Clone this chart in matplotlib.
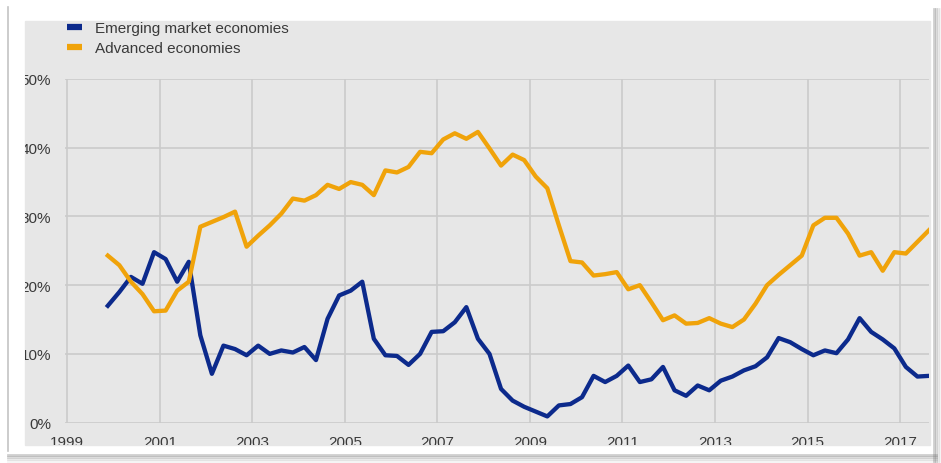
import matplotlib
matplotlib.use("Agg")
import matplotlib.pyplot as plt
from matplotlib.patches import Rectangle
from matplotlib.transforms import Bbox, TransformedBbox
from matplotlib.lines import Line2D

plt.rcParams["font.family"] = ["Liberation Sans", "DejaVu Sans"]

# quarterly data, 2000Q1 - 2017Q4 (% share)
start_year = 2000
emerging = [17.0, 19.0, 21.2, 20.2, 24.8, 23.8, 20.5, 23.4, 12.7, 7.1,
            11.2, 10.7, 9.8, 11.2, 10.0, 10.5, 10.2, 11.0, 9.1, 15.1,
            18.5, 19.2, 20.5, 12.2, 9.8, 9.7, 8.4, 10.0, 13.2, 13.3,
            14.6, 16.8, 12.2, 10.0, 4.9, 3.2, 2.3, 1.6, 0.9, 2.5,
            2.7, 3.7, 6.8, 5.9, 6.8, 8.3, 5.9, 6.3, 8.1, 4.7,
            3.9, 5.4, 4.7, 6.1, 6.7, 7.6, 8.2, 9.5, 12.3, 11.7,
            10.7, 9.8, 10.5, 10.1, 12.1, 15.2, 13.2, 12.1, 10.8, 8.1,
            6.7, 6.8]
advanced = [24.3, 22.9, 20.5, 18.7, 16.2, 16.3, 19.2, 20.5, 28.5, 29.2,
            29.9, 30.7, 25.6, 27.2, 28.7, 30.4, 32.6, 32.3, 33.1, 34.6,
            34.0, 35.0, 34.6, 33.1, 36.7, 36.4, 37.2, 39.4, 39.2, 41.2,
            42.1, 41.3, 42.3, 39.9, 37.4, 39.0, 38.2, 35.8, 34.1, 28.7,
            23.5, 23.3, 21.4, 21.6, 21.9, 19.4, 20.0, 17.5, 14.9, 15.6,
            14.4, 14.5, 15.2, 14.4, 13.9, 15.0, 17.3, 20.0, 21.5, 22.9,
            24.3, 28.7, 29.8, 29.8, 27.5, 24.3, 24.8, 22.1, 24.8, 24.6,
            26.3, 28.0]
labels = ["Emerging market economies", "Advanced economies"]
year_ticks = list(range(1999, 2018, 2))
pct_ticks = [0, 10, 20, 30, 40, 50]

blue = "#0c2a8c"
gold = "#f0a30a"
panel = "#e7e7e7"

dates = [start_year - 0.125 + i / 4 for i in range(len(emerging))]

W, H = 941, 464
fig = plt.figure(figsize=(W / 100, H / 100), dpi=100)
fig.patch.set_facecolor("white")

def fx(px):
    return px / W

def fy(py):
    return 1 - py / H

# screenshot frame: grey panel, thin left edge, shadow at bottom/right
fig.patches.append(Rectangle((fx(25), fy(446)), fx(905), (446 - 22) / H,
                             transform=fig.transFigure, color=panel, zorder=-10))
fig.lines.append(Line2D([fx(8), fx(8)], [fy(452), fy(8)], transform=fig.transFigure,
                        color="#c4c4c4", lw=1.2, zorder=-10))
for i, a in enumerate([0.35, 0.25, 0.15, 0.08]):
    fig.lines.append(Line2D([fx(8), fx(936)], [fy(456 + i * 2), fy(456 + i * 2)],
                            transform=fig.transFigure, color="#777777", alpha=a, lw=2,
                            zorder=-10))
    fig.lines.append(Line2D([fx(934 + i * 2), fx(934 + i * 2)], [fy(462), fy(10)],
                            transform=fig.transFigure, color="#777777", alpha=a, lw=2,
                            zorder=-10))

ax = fig.add_axes([fx(65), fy(423.6), fx(929 - 65), (423.6 - 80) / H])
ax.set_facecolor(panel)
ax.plot(dates, emerging, color=blue, lw=3.1, solid_joinstyle="round", label=labels[0], zorder=3)
ax.plot(dates, advanced, color=gold, lw=3.1, solid_joinstyle="round", label=labels[1], zorder=3)

ax.set_xlim(1998.95, dates[-1])
ax.set_ylim(0, 50)
ax.set_xticks(year_ticks)
ax.set_xticklabels([str(y) for y in year_ticks])
ax.set_yticks(pct_ticks)
ax.set_yticklabels([f"{p}%" for p in pct_ticks])
ax.grid(True, color="#cbcbcb", lw=1.2)
ax.set_axisbelow(True)
for s in ax.spines.values():
    s.set_visible(False)
ax.tick_params(length=0, labelsize=11, labelcolor="#3a3a3a")
ax.tick_params(axis="x", pad=9)
ax.tick_params(axis="y", pad=10)

leg = ax.legend(loc="lower left", bbox_to_anchor=(fx(67), fy(56)),
                bbox_transform=fig.transFigure, frameon=False, fontsize=11,
                handlelength=0.95, handletextpad=0.9, labelspacing=0.4,
                borderaxespad=0, borderpad=0)
for t in leg.get_texts():
    t.set_color("#3a3a3a")
for h in leg.get_lines():
    h.set_linewidth(4.5)
    h.set_solid_capstyle("butt")

# labels get cut off at the edge of the grey panel, as in the screenshot
clip = TransformedBbox(Bbox([[fx(25), fy(446)], [fx(930), fy(22)]]), fig.transFigure)
for t in ax.get_xticklabels() + ax.get_yticklabels() + leg.get_texts():
    t.set_clip_box(clip)
    t.set_clip_on(True)

fig.savefig("out.png", dpi=100)
